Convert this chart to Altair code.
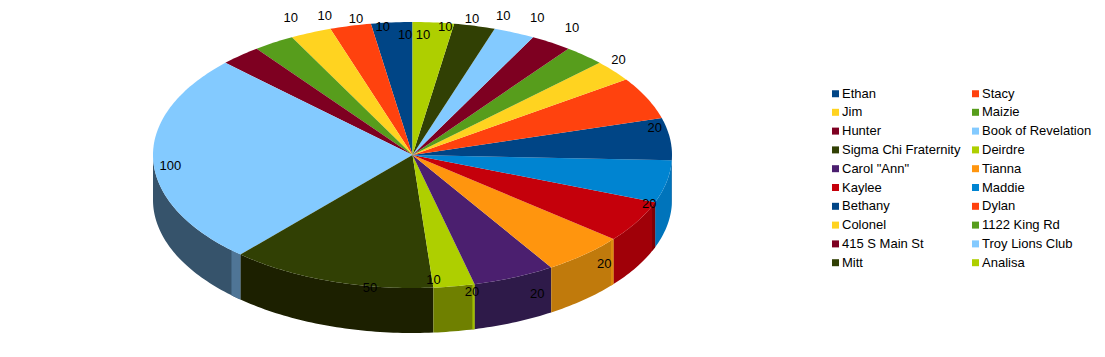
import math
import altair as alt

names = ["Ethan", "Stacy", "Jim", "Maizie", "Hunter", "Book of Revelation",
         "Sigma Chi Fraternity", "Deirdre", 'Carol "Ann"', "Tianna", "Kaylee", "Maddie",
         "Bethany", "Dylan", "Colonel", "1122 King Rd", "415 S Main St", "Troy Lions Club",
         "Mitt", "Analisa"]
values = [10, 10, 10, 10, 10, 100, 50, 10, 20, 20, 20, 20, 20, 20, 10, 10, 10, 10, 10, 10]
colors = ["#004586", "#ff420e", "#ffd320", "#579d1c", "#7e0021", "#83caff",
          "#314004", "#aecf00", "#4b1f6f", "#ff950e", "#c5000b", "#0084d1",
          "#004586", "#ff420e", "#ffd320", "#579d1c", "#7e0021", "#83caff",
          "#314004", "#aecf00"]
# wall shades for the slices that face the viewer
wall_colors = {"Book of Revelation": "#36536b", "Sigma Chi Fraternity": "#1c2000",
               "Deirdre": "#6f8000", 'Carol "Ann"': "#2e1a49", "Tianna": "#c07a0c",
               "Kaylee": "#a00008", "Maddie": "#0074bb", "Bethany": "#003c74"}
# narrow shading streaks on the walls: slice, start and end of the streak in degrees
# measured back from the slice's far edge, colour
wall_streaks = [("Book of Revelation", 2.7, 0.0, "#4f7596"),
                ("Deirdre", 0.5, 0.0, "#a0bc00"),
                ("Tianna", 0.9, 0.0, "#dc8b0c"),
                ("Kaylee", 1.8, 0.0, "#7c0006")]

CX, CY, RX, RY, DEPTH = 404.5, 147, 259.5, 133, 45
total = sum(values)


def pt(deg, dy=0):
    a = math.radians(deg)
    return [CX - RX * math.sin(a), CY - RY * math.cos(a) + dy]


def arc(a0, a1, dy=0):
    n = max(2, int(abs(a1 - a0)) + 2)
    return [pt(a0 + (a1 - a0) * i / (n - 1), dy) for i in range(n)]


def feature(ring, name, color):
    ring = ring + [ring[0]]
    return {"type": "Feature", "geometry": {"type": "Polygon", "coordinates": [ring]},
            "properties": {"name": name, "color": color}}


edges = [0.0]
for v in values:
    edges.append(edges[-1] + v / total * 360)

tops, walls, labels = [], [], []
for i, name in enumerate(names):
    a0, a1 = edges[i], edges[i + 1]
    tops.append(feature([[CX, CY]] + arc(a0, a1), name, colors[i]))
    lo, hi = max(a0, 90), min(a1, 270)
    if lo < hi and name in wall_colors:
        walls.append(feature(arc(lo, hi) + arc(hi, lo, DEPTH), name, wall_colors[name]))
    mid = (a0 + a1) / 2
    s = abs(math.sin(math.radians(mid)))
    c = abs(math.cos(math.radians(mid)))
    r = 120 + 125 * s ** 1.5
    x = CX + 0.5 - r * math.sin(math.radians(mid)) + (2 if mid < 180 else 0)
    y = CY + 0.5 - 0.982 * r * math.cos(math.radians(mid)) + (1 - c)
    labels.append({"x": x, "y": y, "t": str(values[i])})

for name, d0, d1, color in wall_streaks:
    b = edges[names.index(name) + 1]
    walls.append(feature(arc(b - d0, b - d1) + arc(b - d1, b - d0, DEPTH), name + " streak", color))

wall_layer = alt.Chart(alt.Data(values=walls)).mark_geoshape().encode(
    fill=alt.Fill("properties.color:N", scale=None)
).project(type="identity", scale=1, translate=[0, 0])

top_layer = alt.Chart(alt.Data(values=tops)).mark_geoshape().encode(
    color=alt.Color("properties.name:N",
                    scale=alt.Scale(domain=names, range=colors),
                    sort=names,
                    legend=alt.Legend(title=None, orient="none", legendX=821, legendY=79,
                                      columns=2, direction="horizontal",
                                      symbolType="square", symbolSize=49,
                                      symbolStrokeWidth=0, labelFont="Liberation Sans",
                                      labelFontSize=13, labelColor="#000000", labelOffset=0,
                                      rowPadding=4.8, columnPadding=8, labelLimit=200))
).project(type="identity", scale=1, translate=[0, 0])

text_layer = alt.Chart(alt.Data(values=labels)).mark_text(
    font="Liberation Sans", fontSize=13, color="#000000", align="center", baseline="middle"
).encode(x=alt.X("x:Q", scale=None, axis=None), y=alt.Y("y:Q", scale=None, axis=None), text="t:N")

chart = alt.layer(wall_layer, top_layer, text_layer).properties(
    width=1089, height=341, padding=0, autosize=alt.AutoSizeParams(type="none")
).configure_view(stroke=None)

chart.save("out.html", embed_options={"renderer": "svg", "actions": False})
